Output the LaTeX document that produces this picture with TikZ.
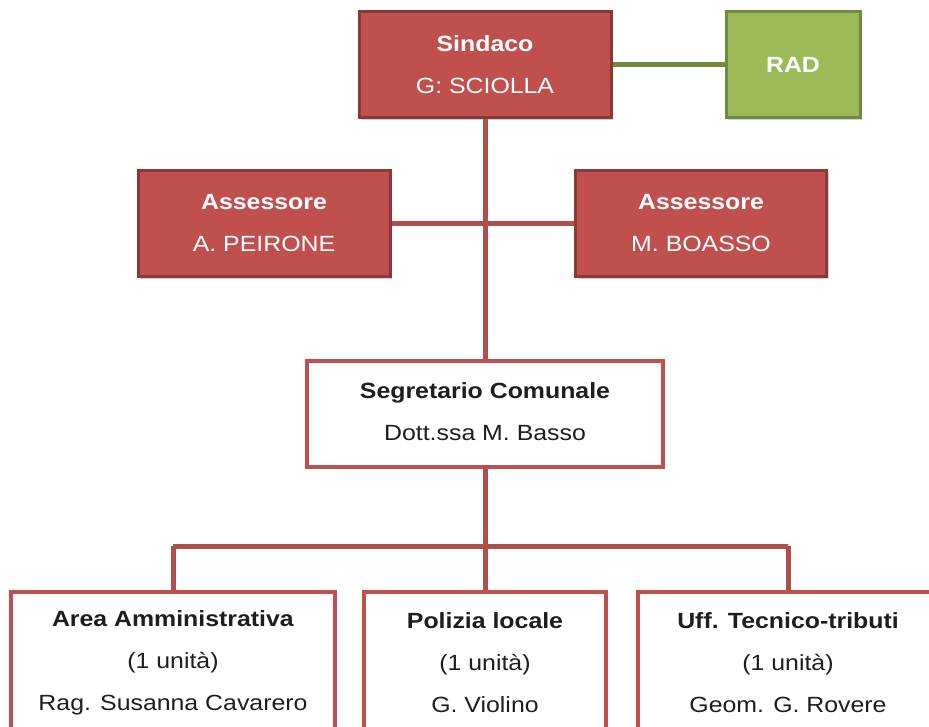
\documentclass[tikz,border=0pt]{standalone}
\usepackage{fontspec}
\setmainfont{Liberation Sans}[FakeStretch=1.13]
\usetikzlibrary{shadows,backgrounds}
\definecolor{redfill}{HTML}{C0504D}
\definecolor{redborder}{HTML}{8C3836}
\definecolor{redline}{HTML}{B04E4C}
\definecolor{greenfill}{HTML}{9BBB59}
\definecolor{greenborder}{HTML}{71893F}
\definecolor{txtdark}{HTML}{1E1E1E}
\tikzset{
  base/.style={rectangle, line width=3pt, align=center, inner sep=0pt,
    font=\fontsize{22}{42}\selectfont,
    drop shadow={opacity=0.35, shadow xshift=2pt, shadow yshift=-2pt}},
  redbox/.style={base, fill=redfill, draw=redborder, text=white},
  greenbox/.style={base, fill=greenfill, draw=greenborder, text=white},
  whitebox/.style={base, fill=white, draw=redfill, line width=4pt, text=txtdark},
  redconn/.style={draw=redline, line width=5pt},
  greenconn/.style={draw=greenborder, line width=5pt},
}
\begin{document}
\begin{tikzpicture}[x=1pt, y=-1pt]
\useasboundingbox (0,0) rectangle (929,727);
\clip (0,0) rectangle (929,727);
\coordinate (br) at (485,546);
\coordinate (brL) at (173,546);
\coordinate (brR) at (788,546);
\node[redbox, minimum width=252pt, minimum height=106pt] (sind) at (485,65) {\textbf{Sindaco}\\G: SCIOLLA};
\node[greenbox, minimum width=134pt, minimum height=106pt] (rad) at (793,65) {\textbf{RAD}};
\node[redbox, minimum width=252pt, minimum height=106pt] (assL) at (264,224) {\raisebox{3pt}{\textbf{Assessore}}\\\raisebox{3pt}{A. PEIRONE}};
\node[redbox, minimum width=251pt, minimum height=106pt] (assR) at (701,224) {\raisebox{3pt}{\textbf{Assessore}}\\\raisebox{3pt}{M. BOASSO}};
\node[whitebox, minimum width=356pt, minimum height=106pt] (segr) at (485,414) {\raisebox{4pt}{\textbf{Segretario Comunale}}\\\raisebox{4pt}{Dott.ssa M. Basso}};
\node[whitebox, minimum width=324pt, minimum height=142pt] (area) at (173,663) {\textbf{Area Amministrativa}\\(1 unità)\\Rag. Susanna Cavarero};
\node[whitebox, minimum width=242pt, minimum height=142pt] (poli) at (485,663) {\textbf{Polizia locale}\\(1 unità)\\G. Violino};
\node[whitebox, minimum width=300pt, minimum height=142pt] (uff) at (788,663) {\textbf{Uff. Tecnico-tributi}\\(1 unità)\\Geom. G. Rovere};
\begin{scope}[on background layer]
\path[greenconn] (sind.east) -- (rad.west);
\path[redconn] (sind.south) -- (segr.north);
\path[redconn] (assL.east) -- (assR.west);
\path[redconn] (segr.south) -- (br);
\path[redconn] (brL) -- (brR);
\path[redconn] (brL) -- (area.north);
\path[redconn] (br) -- (poli.north);
\path[redconn] (brR) -- (uff.north);
\end{scope}
\end{tikzpicture}
\end{document}
